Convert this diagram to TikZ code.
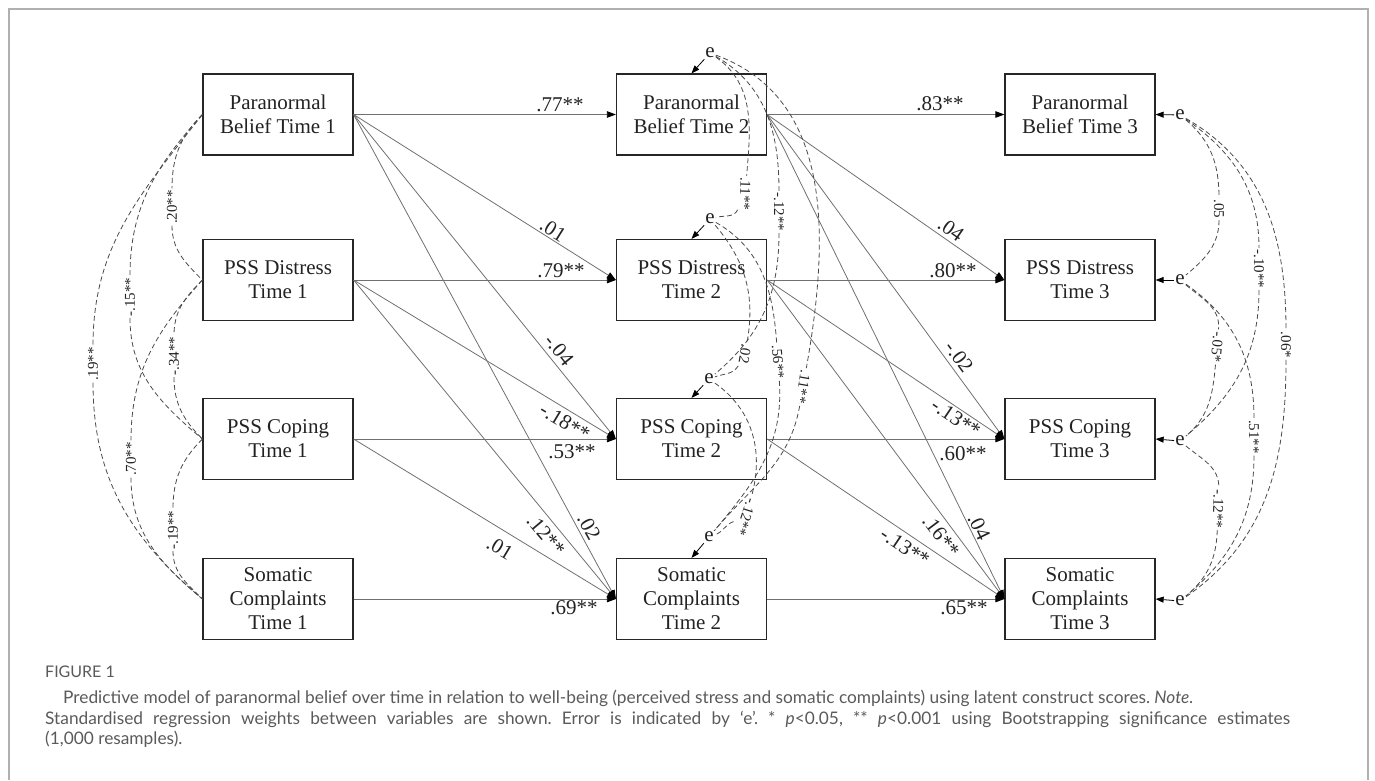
\documentclass[tikz,border=0pt]{standalone}
\usepackage{fontspec}
\setmainfont{Liberation Serif}
\newfontfamily\capfont{Lato}
\usetikzlibrary{arrows.meta}
\definecolor{boxc}{HTML}{262626}
\definecolor{linec}{HTML}{707070}
\definecolor{dashc}{HTML}{4A4A4A}
\definecolor{txtc}{HTML}{222222}
\definecolor{capc}{HTML}{5A5A5A}
\definecolor{framec}{HTML}{B0B0B0}
\begin{document}
\frenchspacing
\begin{tikzpicture}[x=1pt,y=1pt,
  box/.style={draw=boxc, line width=1.2pt, minimum width=150pt, minimum height=81pt, inner sep=0pt, align=center, font=\fontsize{21}{24}\selectfont, text=txtc},
  reg/.style={draw=linec, line width=0.8pt, -{Triangle[length=9pt,width=6.5pt,color=black]}},
  errarr/.style={draw=black, line width=0.8pt, -{Triangle[length=8pt,width=6pt]}},
  errnode/.style={font=\fontsize{21}{21}\selectfont, inner sep=1pt, text=txtc},
  cov/.style={draw=dashc, line width=0.8pt, dash pattern=on 5pt off 3pt},
  wl/.style={font=\fontsize{21}{21}\selectfont, inner sep=0pt, text=txtc},
  cl/.style={font=\fontsize{15}{15}\selectfont, inner sep=1.5pt, text=txtc},
  capline/.style={anchor=base west, font=\capfont\fontsize{17.3}{17.3}\selectfont, text=capc, inner sep=0pt},
]
\useasboundingbox (0,0) rectangle (1375,-780);
\draw[framec, line width=2pt] (9,-780) -- (9,-9) -- (1368,-9) -- (1368,-780);

% boxes
\node[box] (PB1) at (278,-114.5) {Paranormal\\Belief Time 1};
\node[box] (PD1) at (278,-280) {PSS Distress\\Time 1};
\node[box] (PC1) at (278,-439) {PSS Coping\\Time 1};
\node[box] (SC1) at (278,-599) {Somatic\\Complaints\\Time 1};
\node[box] (PB2) at (691.5,-114.5) {Paranormal\\Belief Time 2};
\node[box] (PD2) at (691.5,-280) {PSS Distress\\Time 2};
\node[box] (PC2) at (691.5,-439) {PSS Coping\\Time 2};
\node[box] (SC2) at (691.5,-599) {Somatic\\Complaints\\Time 2};
\node[box] (PB3) at (1080,-114.5) {Paranormal\\Belief Time 3};
\node[box] (PD3) at (1080,-280) {PSS Distress\\Time 3};
\node[box] (PC3) at (1080,-439) {PSS Coping\\Time 3};
\node[box] (SC3) at (1080,-599) {Somatic\\Complaints\\Time 3};

% regression paths 1 -> 2
\draw[reg] (PB1.east) -- (PB2.west);
\draw[reg] (PB1.east) -- (PD2.west);
\draw[reg] (PB1.east) -- (PC2.west);
\draw[reg] (PB1.east) -- (SC2.west);
\draw[reg] (PD1.east) -- (PD2.west);
\draw[reg] (PD1.east) -- (PC2.west);
\draw[reg] (PD1.east) -- (SC2.west);
\draw[reg] (PC1.east) -- (PC2.west);
\draw[reg] (PC1.east) -- (SC2.west);
\draw[reg] (SC1.east) -- (SC2.west);
% regression paths 2 -> 3
\draw[reg] (PB2.east) -- (PB3.west);
\draw[reg] (PB2.east) -- (PD3.west);
\draw[reg] (PB2.east) -- (PC3.west);
\draw[reg] (PB2.east) -- (SC3.west);
\draw[reg] (PD2.east) -- (PD3.west);
\draw[reg] (PD2.east) -- (PC3.west);
\draw[reg] (PD2.east) -- (SC3.west);
\draw[reg] (PC2.east) -- (PC3.west);
\draw[reg] (PC2.east) -- (SC3.west);
\draw[reg] (SC2.east) -- (SC3.west);

% regression weights
\node[wl] (r1) at (560,-105) {.77**};
\node[wl, rotate=-32] (r2) at (553,-230) {.01};
\node[wl, rotate=-51] (r3) at (559,-350) {-.04};
\node[wl, rotate=-61] (r4) at (589,-527) {.02};
\node[wl] (r5) at (561,-271) {.79**};
\node[wl, rotate=-31] (r6) at (565,-422) {-.18**};
\node[wl, rotate=-50] (r7) at (546,-535) {.12**};
\node[wl] (r8) at (572,-452) {.53**};
\node[wl, rotate=-31] (r9) at (500,-548) {.01};
\node[wl] (r10) at (574,-608) {.69**};
\node[wl] (s1) at (940,-104) {.83**};
\node[wl, rotate=-35] (s2) at (951,-229) {.04};
\node[wl, rotate=-54] (s3) at (959,-357) {-.02};
\node[wl, rotate=-64] (s4) at (979,-527) {.04};
\node[wl] (s5) at (953,-271) {.80**};
\node[wl, rotate=-34] (s6) at (956,-418) {-.13**};
\node[wl, rotate=-53] (s7) at (941,-536) {.16**};
\node[wl] (s8) at (963,-454) {.60**};
\node[wl, rotate=-34] (s9) at (905,-547) {-.13**};
\node[wl] (s10) at (964,-608) {.65**};

% error terms column 2
\node[errnode] (e21) at (710,-53) {e};
\node[errnode] (e22) at (710,-219) {e};
\node[errnode] (e23) at (709,-379) {e};
\node[errnode] (e24) at (709,-537) {e};
\draw[errarr] (e21) -- (PB2.north);
\draw[errarr] (e22) -- (PD2.north);
\draw[errarr] (e23) -- (PC2.north);
\draw[errarr] (e24) -- (SC2.north);
% error terms column 3
\node[errnode] (e31) at (1180,-115) {e};
\node[errnode] (e32) at (1180,-280) {e};
\node[errnode] (e33) at (1180,-441) {e};
\node[errnode] (e34) at (1180,-601) {e};
\draw[errarr] (e31) -- (PB3.east);
\draw[errarr] (e32) -- (PD3.east);
\draw[errarr] (e33) -- (PC3.east);
\draw[errarr] (e34) -- (SC3.east);

% covariances column 1
\node[cl] (c1a) at (172,-207) {\rotatebox{90}{.20**}};
\node[cl] (c1b) at (130,-297) {\rotatebox{90}{-.15**}};
\node[cl] (c1c) at (93,-364) {\rotatebox{90}{.19**}};
\node[cl] (c1d) at (174,-356) {\rotatebox{90}{-.34**}};
\node[cl] (c1e) at (131,-459) {\rotatebox{90}{.70**}};
\node[cl] (c1f) at (173,-530) {\rotatebox{90}{-.19**}};
\draw[cov] (PB1.west) to[out=225,in=90] (c1a) to[out=270,in=135] (PD1.west);
\draw[cov] (PB1.west) to[out=228,in=90] (c1b) to[out=270,in=140] (PC1.west);
\draw[cov] (PB1.west) to[out=232,in=90] (c1c) to[out=270,in=140] (SC1.west);
\draw[cov] (PD1.west) to[out=225,in=90] (c1d) to[out=270,in=135] (PC1.west);
\draw[cov] (PD1.west) to[out=228,in=90] (c1e) to[out=270,in=140] (SC1.west);
\draw[cov] (PC1.west) to[out=225,in=90] (c1f) to[out=270,in=135] (SC1.west);

% covariances column 2
\node[cl] (c2a) at (745,-194) {\rotatebox{-92}{.11**}};
\node[cl] (c2b) at (779,-212) {\rotatebox{-90}{-.12**}};
\node[cl] (c2c) at (803,-387) {\rotatebox{-100}{.11**}};
\node[cl] (c2d) at (745,-354) {\rotatebox{-100}{.02}};
\node[cl] (c2e) at (778,-362) {\rotatebox{-86}{.56**}};
\node[cl] (c2f) at (746,-517) {\rotatebox{-108}{-.12**}};
\draw[cov] (e21) to[out=-35,in=85] (c2a) to[out=-115,in=15] (e22);
\draw[cov] (e21) to[out=-30,in=90] (c2b) to[out=-90,in=40] (e23);
\draw[cov] (e21) to[out=-20,in=80] (c2c) to[out=-100,in=50] (e24);
\draw[cov] (e22) to[out=-50,in=80] (c2d) to[out=-120,in=20] (e23);
\draw[cov] (e22) to[out=-30,in=94] (c2e) to[out=-86,in=50] (e24);
\draw[cov] (e23) to[out=-35,in=75] (c2f) to[out=200,in=20] (e24);

% covariances column 3
\node[cl] (c3a) at (1219,-209) {\rotatebox{-90}{.05}};
\node[cl] (c3b) at (1259,-269) {\rotatebox{-90}{-.10**}};
\node[cl] (c3c) at (1286,-345) {\rotatebox{-90}{.06*}};
\node[cl] (c3d) at (1217,-347) {\rotatebox{-95}{-.05*}};
\node[cl] (c3e) at (1254,-437) {\rotatebox{-90}{.51**}};
\node[cl] (c3f) at (1218,-509) {\rotatebox{-92}{-.12**}};
\draw[cov] (e31) to[out=-40,in=90] (c3a) to[out=-90,in=40] (e32);
\draw[cov] (e31) to[out=-35,in=90] (c3b) to[out=-90,in=40] (e33);
\draw[cov] (e31) to[out=-30,in=90] (c3c) to[out=-90,in=35] (e34);
\draw[cov] (e32) to[out=-40,in=85] (c3d) to[out=-95,in=40] (e33);
\draw[cov] (e32) to[out=-35,in=90] (c3e) to[out=-90,in=40] (e34);
\draw[cov] (e33) to[out=-40,in=88] (c3f) to[out=-92,in=40] (e34);

% caption
\node[anchor=base west, font=\capfont\fontsize{16}{16}\selectfont, text=capc, inner sep=0pt] (fig) at (45,-677) {FIGURE 1};
\node[capline] (cap1) at (63,-703) {Predictive model of paranormal belief over time in relation to well-being (perceived stress and somatic complaints) using latent construct scores. \textit{Note.}};
\node[capline] (cap2) at (45,-724) {\makebox[1245pt][s]{Standardised regression weights between variables are shown. Error is indicated by ‘e’. * \textit{p}<0.05, ** \textit{p}<0.001 using Bootstrapping significance estimates}};
\node[capline] (cap3) at (45,-744) {(1,000 resamples).};
\end{tikzpicture}
\end{document}
